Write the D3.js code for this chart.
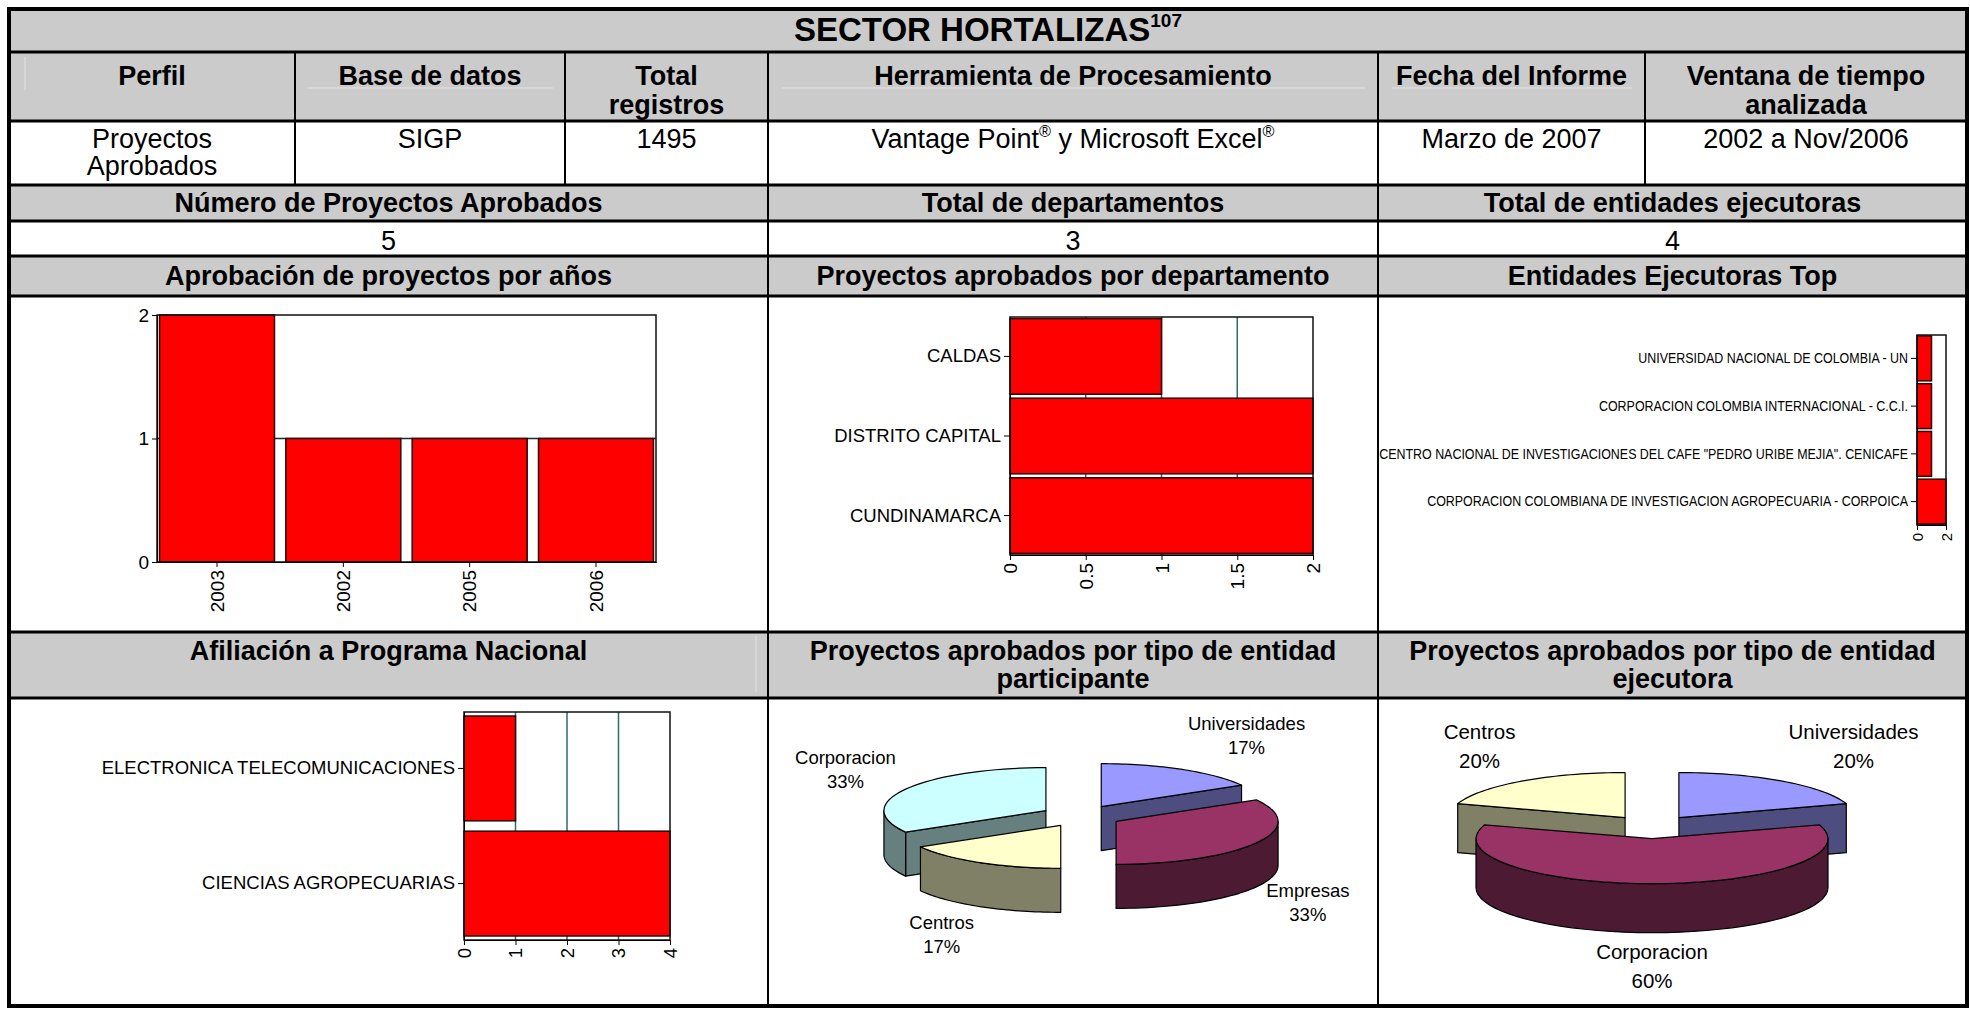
<!DOCTYPE html>
<html>
<head>
<meta charset="utf-8">
<script src="https://cdn.jsdelivr.net/npm/d3@7"></script>
<style>
  body { margin: 0; background: #fff; }
  svg { display: block; }
  text { font-family: "Liberation Sans", Arial, sans-serif; fill: #000; }
</style>
</head>
<body>
<script>
// report texts
const titleText = "SECTOR HORTALIZAS";
const titleNote = "107";
const headerCells = [["Perfil"], ["Base de datos"], ["Total", "registros"], ["Herramienta de Procesamiento"], ["Fecha del Informe"], ["Ventana de tiempo", "analizada"]];
const infoCells = [["Proyectos", "Aprobados"], ["SIGP"], ["1495"], ["Vantage Point® y Microsoft Excel®"], ["Marzo de 2007"], ["2002 a Nov/2006"]];
const summaryHeaders = ["Número de Proyectos Aprobados", "Total de departamentos", "Total de entidades ejecutoras"];
const chartHeadersTop = [["Aprobación de proyectos por años"], ["Proyectos aprobados por departamento"], ["Entidades Ejecutoras Top"]];
const chartHeadersBottom = [["Afiliación a Programa Nacional"], ["Proyectos aprobados por tipo de entidad", "participante"], ["Proyectos aprobados por tipo de entidad", "ejecutora"]];

// chart data
const yearLabels = ["2003", "2002", "2005", "2006"];
const yearCounts = [2, 1, 1, 1];
const deptLabels = ["CALDAS", "DISTRITO CAPITAL", "CUNDINAMARCA"];
const deptCounts = [1, 2, 2];
const entidadLabels = [
  "UNIVERSIDAD NACIONAL DE COLOMBIA - UN",
  "CORPORACION COLOMBIA INTERNACIONAL - C.C.I.",
  "CENTRO NACIONAL DE INVESTIGACIONES DEL CAFE \"PEDRO URIBE MEJIA\". CENICAFE",
  "CORPORACION COLOMBIANA DE INVESTIGACION AGROPECUARIA - CORPOICA"
];
const entidadCounts = [1, 1, 1, 2];
const programaLabels = ["ELECTRONICA TELECOMUNICACIONES", "CIENCIAS AGROPECUARIAS"];
const programaCounts = [1, 4];
const participanteTipos = ["Universidades", "Empresas", "Centros", "Corporacion"];
const participanteCounts = [1, 2, 1, 2];
const ejecutoraTipos = ["Universidades", "Corporacion", "Centros"];
const ejecutoraCounts = [1, 3, 1];
// excel default pie palette, used in series order
const piePalette = ["#9999ff", "#993366", "#ffffcc", "#ccffff"];

const summaryValues = [d3.sum(yearCounts), deptLabels.length, entidadLabels.length];

const width = 1970, height = 1010;
const svg = d3.select("body").append("svg")
  .attr("width", width)
  .attr("height", height);

// table layout
const cols6 = [9, 295, 565, 768, 1378, 1645, 1967];
const cols3 = [9, 768, 1378, 1967];
const rowsY = [9, 52, 121, 185, 221, 256, 296, 632, 698, 1006];
const grey = "#cbcbcb";

[0, 1, 3, 5, 7].forEach(i => {
  svg.append("rect")
    .attr("x", cols6[0]).attr("y", rowsY[i])
    .attr("width", cols6[6] - cols6[0]).attr("height", rowsY[i + 1] - rowsY[i])
    .attr("fill", grey);
});

// faint ghost borders of the original document
const ghost = svg.append("g").attr("stroke", "#e4e4e4").attr("stroke-width", 1);
ghost.append("line").attr("x1", 25).attr("x2", 25).attr("y1", 57).attr("y2", 90);
[[308, 553], [782, 1365], [1392, 1632]].forEach(([a, b]) => {
  ghost.append("line").attr("x1", a).attr("x2", b).attr("y1", 88).attr("y2", 88);
});
ghost.append("line").attr("x1", 756).attr("x2", 756).attr("y1", 636).attr("y2", 692);

// text helper, "®" becomes superscript
function cellLine(x, y, str, size, bold) {
  const t = svg.append("text")
    .attr("x", x).attr("y", y)
    .attr("text-anchor", "middle")
    .attr("font-size", size)
    .attr("font-weight", bold ? "bold" : "normal");
  let shifted = false;
  str.split(/(®)/).filter(s => s).forEach(part => {
    const ts = t.append("tspan").text(part);
    if (part === "®") {
      ts.attr("font-size", size * 0.6).attr("dy", shifted ? 0 : -size * 0.4);
      shifted = true;
    } else {
      if (shifted) ts.attr("dy", size * 0.4);
      shifted = false;
    }
  });
  return t;
}

// title
const title = svg.append("text")
  .attr("x", (cols6[0] + cols6[6]) / 2).attr("y", 41)
  .attr("text-anchor", "middle")
  .attr("font-size", 33).attr("font-weight", "bold");
title.append("tspan").text(titleText);
title.append("tspan").attr("font-size", 19).attr("dy", -14).text(titleNote);

headerCells.forEach((lines, i) => {
  const cx = (cols6[i] + cols6[i + 1]) / 2;
  lines.forEach((s, j) => cellLine(cx, 85 + j * 29, s, 27, true));
});
infoCells.forEach((lines, i) => {
  const cx = (cols6[i] + cols6[i + 1]) / 2;
  lines.forEach((s, j) => cellLine(cx, 148 + j * 27, s, 27, false));
});
summaryHeaders.forEach((s, i) => cellLine((cols3[i] + cols3[i + 1]) / 2, 212, s, 27, true));
summaryValues.forEach((v, i) => cellLine((cols3[i] + cols3[i + 1]) / 2, 250, String(v), 27, false));
chartHeadersTop.forEach((lines, i) => {
  lines.forEach((s, j) => cellLine((cols3[i] + cols3[i + 1]) / 2, 285, s, 27, true));
});
chartHeadersBottom.forEach((lines, i) => {
  lines.forEach((s, j) => cellLine((cols3[i] + cols3[i + 1]) / 2, 660 + j * 28, s, 27, true));
});

// borders
const borders = svg.append("g").attr("stroke", "#000");
rowsY.slice(1, -1).forEach(y => {
  borders.append("line").attr("x1", cols6[0]).attr("x2", cols6[6]).attr("y1", y).attr("y2", y).attr("stroke-width", 3);
});
cols6.slice(1, -1).forEach(x => {
  borders.append("line").attr("x1", x).attr("x2", x).attr("y1", rowsY[1]).attr("y2", rowsY[3]).attr("stroke-width", 2);
});
cols3.slice(1, -1).forEach(x => {
  borders.append("line").attr("x1", x).attr("x2", x).attr("y1", rowsY[3]).attr("y2", rowsY[9]).attr("stroke-width", 2);
});
borders.append("rect")
  .attr("x", cols6[0]).attr("y", rowsY[0])
  .attr("width", cols6[6] - cols6[0]).attr("height", rowsY[9] - rowsY[0])
  .attr("fill", "none").attr("stroke-width", 4);

// ---------- vertical bar chart (years) ----------
function styleTicks(g, size) {
  g.attr("font-size", size).attr("font-family", "Liberation Sans, Arial, sans-serif");
  g.selectAll(".tick line").attr("stroke", "#000");
  g.select(".domain").attr("stroke", "#000");
  g.selectAll("text").attr("fill", "#222");
}

(function () {
  const box = { left: 157, right: 656, top: 315, bottom: 562 };
  const yMax = d3.max(yearCounts);
  const x = d3.scaleBand().domain(yearLabels).range([box.left, box.right]).paddingInner(0.09).paddingOuter(0.02);
  const y = d3.scaleLinear().domain([0, yMax]).range([box.bottom, box.top]);
  const g = svg.append("g");
  g.append("rect").attr("x", box.left).attr("y", box.top)
    .attr("width", box.right - box.left).attr("height", box.bottom - box.top).attr("fill", "#fff");
  g.selectAll("line.grid").data(d3.range(1, yMax)).enter().append("line")
    .attr("x1", box.left).attr("x2", box.right)
    .attr("y1", d => y(d)).attr("y2", d => y(d))
    .attr("stroke", "#1d2b2b").attr("stroke-width", 1.5);
  g.selectAll("rect.bar").data(yearCounts).enter().append("rect")
    .attr("x", (d, i) => x(yearLabels[i]))
    .attr("y", d => y(d))
    .attr("width", x.bandwidth())
    .attr("height", d => y(0) - y(d))
    .attr("fill", "#ff0000").attr("stroke", "#2a0000").attr("stroke-width", 1.5);
  g.append("rect").attr("x", box.left).attr("y", box.top)
    .attr("width", box.right - box.left).attr("height", box.bottom - box.top)
    .attr("fill", "none").attr("stroke", "#111").attr("stroke-width", 1.5);
  const ya = g.append("g").attr("transform", `translate(${box.left},0)`)
    .call(d3.axisLeft(y).tickValues(d3.range(0, yMax + 1)).tickFormat(d3.format("d")).tickSize(5).tickSizeOuter(0));
  styleTicks(ya, 19);
  const xa = g.append("g").attr("transform", `translate(0,${box.bottom})`)
    .call(d3.axisBottom(x).tickSize(5).tickSizeOuter(0));
  styleTicks(xa, 19);
  xa.selectAll("text").attr("transform", "rotate(-90)").attr("text-anchor", "end")
    .attr("x", -8).attr("y", 0).attr("dy", "0.35em");
})();

// ---------- horizontal bar charts ----------
function hbar(cfg) {
  const { labels, values, box, ticks, fmt, pi, po, size, squeeze } = cfg;
  const x = d3.scaleLinear().domain([0, d3.max(ticks)]).range([box.left, box.right]);
  const y = d3.scaleBand().domain(labels).range([box.top, box.bottom]).paddingInner(pi).paddingOuter(po);
  const g = svg.append("g");
  g.append("rect").attr("x", box.left).attr("y", box.top)
    .attr("width", box.right - box.left).attr("height", box.bottom - box.top).attr("fill", "#fff");
  g.selectAll("line.grid").data(ticks.slice(1, -1)).enter().append("line")
    .attr("x1", d => x(d)).attr("x2", d => x(d))
    .attr("y1", box.top).attr("y2", box.bottom)
    .attr("stroke", "#2e6b6b").attr("stroke-width", 1.5);
  g.selectAll("rect.bar").data(values).enter().append("rect")
    .attr("x", x(0))
    .attr("y", (d, i) => y(labels[i]))
    .attr("width", d => x(d) - x(0))
    .attr("height", y.bandwidth())
    .attr("fill", "#ff0000").attr("stroke", "#2a0000").attr("stroke-width", 1.5);
  g.append("rect").attr("x", box.left).attr("y", box.top)
    .attr("width", box.right - box.left).attr("height", box.bottom - box.top)
    .attr("fill", "none").attr("stroke", "#111").attr("stroke-width", 1.5);
  const ya = g.append("g").attr("transform", `translate(${box.left},0)`)
    .call(d3.axisLeft(y).tickSize(6).tickSizeOuter(0));
  styleTicks(ya, size);
  if (squeeze) {
    ya.selectAll("text").attr("transform", `scale(${squeeze},1)`).attr("x", -9 / squeeze);
  }
  const xa = g.append("g").attr("transform", `translate(0,${box.bottom})`)
    .call(d3.axisBottom(x).tickValues(ticks).tickFormat(fmt).tickSize(5).tickSizeOuter(0));
  styleTicks(xa, cfg.tickSize || size);
  xa.selectAll("text").attr("transform", "rotate(-90)").attr("text-anchor", "end")
    .attr("x", -8).attr("y", 0).attr("dy", "0.35em");
}

hbar({
  labels: deptLabels, values: deptCounts,
  box: { left: 1010, right: 1313, top: 317, bottom: 555 },
  ticks: [0, 0.5, 1, 1.5, 2], fmt: d3.format("~g"), pi: 0.05, po: 0.02, size: 18.5, tickSize: 19
});
hbar({
  labels: entidadLabels, values: entidadCounts,
  box: { left: 1917, right: 1946, top: 335, bottom: 525 },
  ticks: [0, 2], fmt: d3.format("d"), pi: 0.06, po: 0.02, size: 15, squeeze: 0.83, tickSize: 15
});
hbar({
  labels: programaLabels, values: programaCounts,
  box: { left: 464, right: 670, top: 712, bottom: 940 },
  ticks: [0, 1, 2, 3, 4], fmt: d3.format("d"), pi: 0.09, po: 0.035, size: 18.5
});

// ---------- exploded 3D pies ----------
function pie3d(cfg) {
  const { tipos, counts, cx, cy, rx, ry, depth, explode, size, lineGap, kyTop, kyBot } = cfg;
  const total = d3.sum(counts);
  const arcs = d3.pie().sort(null).value(d => d)(counts);
  const g = svg.append("g");
  const line = d3.line();
  const steps = (a0, a1) => d3.range(0, 41).map(k => a0 + (a1 - a0) * k / 40);

  const slices = arcs.map((a, i) => {
    const m = (a.startAngle + a.endAngle) / 2;
    return {
      a0: a.startAngle, a1: a.endAngle, m,
      ox: cx + explode * rx * Math.sin(m),
      oy: cy - explode * ry * Math.cos(m),
      tipo: tipos[i], value: counts[i], color: piePalette[i % piePalette.length]
    };
  });

  slices.slice().sort((p, q) => -Math.cos(p.m) + Math.cos(q.m)).forEach(s => {
    const rim = (a, dz) => [s.ox + rx * Math.sin(a), s.oy - ry * Math.cos(a) + (dz || 0)];
    const top = d3.color(s.color);
    const side = d3.rgb(top.r * 0.5, top.g * 0.5, top.b * 0.5);
    const faces = [];
    if (Math.sin(s.a0) < -1e-6) faces.push([[s.ox, s.oy], rim(s.a0), rim(s.a0, depth), [s.ox, s.oy + depth]]);
    if (Math.sin(s.a1) > 1e-6) faces.push([[s.ox, s.oy], rim(s.a1), rim(s.a1, depth), [s.ox, s.oy + depth]]);
    const lo = Math.max(s.a0, Math.PI / 2), hi = Math.min(s.a1, 3 * Math.PI / 2);
    if (lo < hi) {
      const angs = steps(lo, hi);
      faces.push(angs.map(a => rim(a)).concat(angs.slice().reverse().map(a => rim(a, depth))));
    }
    faces.forEach(f => {
      g.append("path").attr("d", line(f) + "Z")
        .attr("fill", side).attr("stroke", "#000").attr("stroke-width", 1.2).attr("stroke-linejoin", "round");
    });
    const topPts = [[s.ox, s.oy]].concat(steps(s.a0, s.a1).map(a => rim(a)));
    g.append("path").attr("d", line(topPts) + "Z")
      .attr("fill", top).attr("stroke", "#000").attr("stroke-width", 1.2).attr("stroke-linejoin", "round");
  });

  // labels: box edge sits on a larger ellipse, like excel's outside labels
  slices.forEach(s => {
    const sn = Math.sin(s.m), cs = Math.cos(s.m);
    const dir = Math.abs(sn) < 1e-6 ? 0 : Math.sign(sn);
    const ly = cy - (cs > 0 ? kyTop : kyBot) * ry * cs + (cs < 0 ? depth : 0);
    const t1 = g.append("text").attr("text-anchor", "middle").attr("font-size", size)
      .attr("y", ly - lineGap / 2).attr("dy", "0.35em").text(s.tipo);
    const t2 = g.append("text").attr("text-anchor", "middle").attr("font-size", size)
      .attr("y", ly + lineGap / 2).attr("dy", "0.35em").text(Math.round(s.value / total * 100) + "%");
    const w = Math.max(t1.node().getComputedTextLength(), t2.node().getComputedTextLength());
    const lx = cx + 1.32 * rx * sn + dir * w / 2;
    t1.attr("x", lx);
    t2.attr("x", lx);
  });
}

pie3d({ tipos: participanteTipos, counts: participanteCounts, cx: 1081, cy: 816, rx: 162, ry: 43, depth: 44, explode: 0.25, size: 18.5, lineGap: 24, kyTop: 2.15, kyBot: 2.0 });
pie3d({ tipos: ejecutoraTipos, counts: ejecutoraCounts, cx: 1652, cy: 827, rx: 176, ry: 45, depth: 49, explode: 0.26, size: 20.5, lineGap: 29, kyTop: 2.22, kyBot: 2.0 });
</script>
</body>
</html>
